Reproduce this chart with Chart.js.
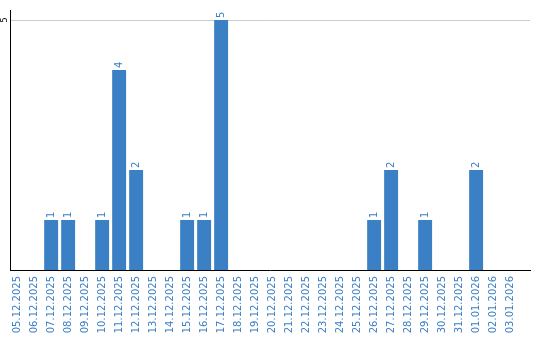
<!DOCTYPE html>
<html>
<head>
<meta charset="utf-8">
<script src="https://cdn.jsdelivr.net/npm/chart.js@4/dist/chart.umd.min.js"></script>
<style>
  html, body { margin: 0; padding: 0; background: #fff; }
  #wrap { width: 540px; height: 340px; }
</style>
</head>
<body>
<div id="wrap"><canvas id="chart"></canvas></div>
<script>
const days = [
  "05.12.2025", "06.12.2025", "07.12.2025", "08.12.2025", "09.12.2025",
  "10.12.2025", "11.12.2025", "12.12.2025", "13.12.2025", "14.12.2025",
  "15.12.2025", "16.12.2025", "17.12.2025", "18.12.2025", "19.12.2025",
  "20.12.2025", "21.12.2025", "22.12.2025", "23.12.2025", "24.12.2025",
  "25.12.2025", "26.12.2025", "27.12.2025", "28.12.2025", "29.12.2025",
  "30.12.2025", "31.12.2025", "01.01.2026", "02.01.2026", "03.01.2026"
];
const counts = [
  0, 0, 1, 1, 0,
  1, 4, 2, 0, 0,
  1, 1, 5, 0, 0,
  0, 0, 0, 0, 0,
  0, 1, 2, 0, 1,
  0, 0, 2, 0, 0
];
const yTicks = [5];

const blue = "#3b7fc4";

// rotated value labels above bars + rotated y tick
const rotatedLabels = {
  id: "rotatedLabels",
  afterDatasetsDraw(chart) {
    const ctx = chart.ctx;
    const meta = chart.getDatasetMeta(0);
    ctx.save();
    ctx.font = "10px 'DejaVu Sans'";
    ctx.fillStyle = blue;
    ctx.textAlign = "left";
    ctx.textBaseline = "middle";
    meta.data.forEach((bar, i) => {
      if (!counts[i]) return;
      ctx.save();
      ctx.translate(bar.x, bar.y - 2);
      ctx.rotate(-Math.PI / 2);
      ctx.fillText(String(counts[i]), 0, 0);
      ctx.restore();
    });
    // y tick
    const y = chart.scales.y;
    ctx.font = "8px 'DejaVu Sans'";
    ctx.fillStyle = "#000";
    ctx.textAlign = "center";
    ctx.textBaseline = "middle";
    yTicks.forEach((t) => {
      ctx.save();
      ctx.translate(4.5, y.getPixelForValue(t));
      ctx.rotate(-Math.PI / 2);
      ctx.fillText(String(t), 0, 0);
      ctx.restore();
    });
    ctx.restore();
  }
};

new Chart(document.getElementById("chart"), {
  type: "bar",
  data: {
    datasets: [{
      data: counts.map((v, i) => ({ x: i, y: v })),
      backgroundColor: blue,
      barPercentage: 0.82,
      categoryPercentage: 1
    }]
  },
  options: {
    responsive: true,
    maintainAspectRatio: false,
    animation: false,
    layout: { padding: { left: 10, right: 10, top: 10, bottom: 6 } },
    plugins: { legend: { display: false }, tooltip: { enabled: false } },
    scales: {
      x: {
        type: "linear",
        offset: false,
        min: -0.42,
        max: 30.17,
        afterBuildTicks: (scale) => { scale.ticks = days.map((d, i) => ({ value: i })); },
        afterFit: (scale) => { scale.height = 64; },
        grid: { display: false, drawTicks: false },
        border: { display: true, color: "#000", width: 1 },
        ticks: {
          color: blue,
          font: { family: "DejaVu Sans", size: 10 },
          minRotation: 90,
          maxRotation: 90,
          autoSkip: false,
          padding: 6,
          callback: (v) => days[v]
        }
      },
      y: {
        min: 0,
        max: 5.2,
        afterBuildTicks: (scale) => { scale.ticks = yTicks.map((v) => ({ value: v })); },
        grid: { color: "#cccccc", drawTicks: false },
        border: { display: true, color: "#000", width: 1 },
        ticks: { display: false }
      }
    }
  },
  plugins: [rotatedLabels]
});
</script>
</body>
</html>
